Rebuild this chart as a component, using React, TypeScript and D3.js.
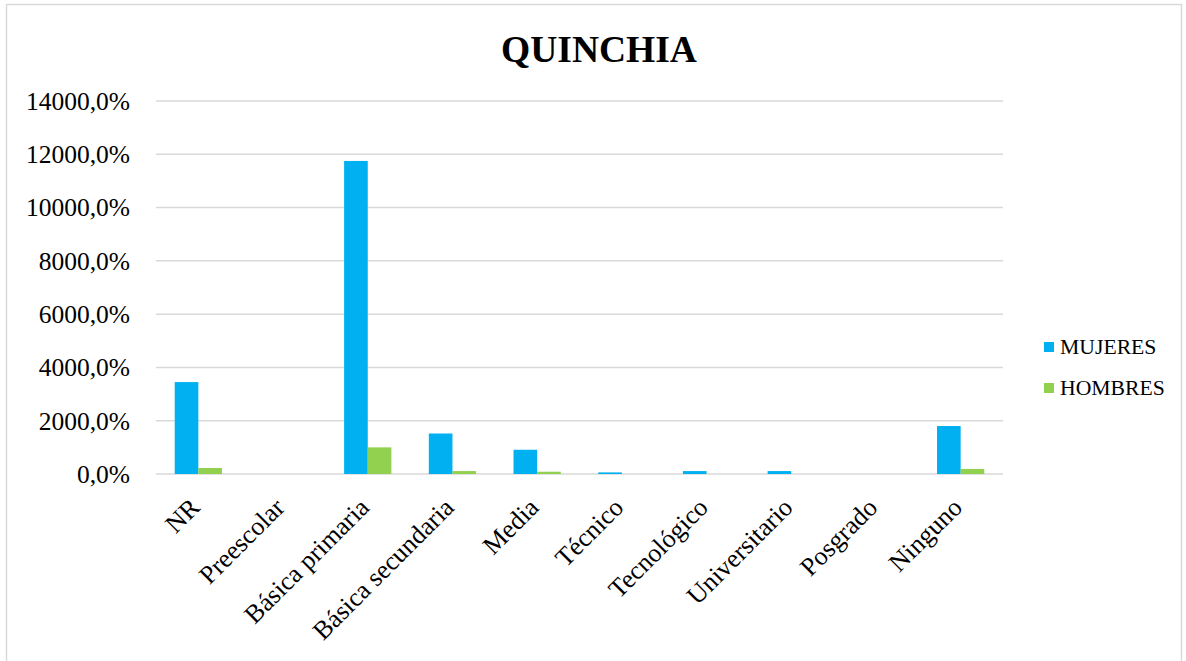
import React from "react";
import * as d3 from "d3";

const categories = ["NR", "Preescolar", "Básica primaria", "Básica secundaria", "Media", "Técnico", "Tecnológico", "Universitario", "Posgrado", "Ninguno"];
const mujeres = [3450, 0, 11750, 1520, 910, 60, 110, 110, 0, 1800];
const hombres = [225, 0, 1000, 110, 85, 0, 0, 0, 0, 190];
const yTicks = [0, 2000, 4000, 6000, 8000, 10000, 12000, 14000];
const seriesNames = ["MUJERES", "HOMBRES"];
const colors = ["#00B0F0", "#92D050"];

const W = 1186, H = 661;
const plot = { left: 156, right: 1003, top: 101, bottom: 474 };
const font = "'Liberation Serif', 'Times New Roman', serif";

export default function App() {
  const x = d3.scaleBand<string>().domain(categories).range([plot.left, plot.right]).paddingInner(0).paddingOuter(0);
  const y = d3.scaleLinear().domain([0, 14000]).range([plot.bottom, plot.top]);
  const bw = x.bandwidth();
  const barW = bw * 0.279;
  const fmt = (v: number) => v.toFixed(1).replace(".", ",") + "%";
  const series = [mujeres, hombres];
  return (
    <svg width={W} height={H} style={{ position: "absolute", left: 0, top: 0, background: "#fff" }} fontFamily={font}>
      <rect x={6.5} y={4.5} width={1175} height={662} fill="#fff" stroke="#D9D9D9" strokeWidth={1.5} />
      <text x={599} y={62} textAnchor="middle" fontSize={37.5} fontWeight="bold" fill="#000">QUINCHIA</text>
      {yTicks.map((t) => (
        <g key={t}>
          <line x1={plot.left} x2={plot.right} y1={y(t)} y2={y(t)} stroke="#D9D9D9" strokeWidth={1.5} />
          <text x={130} y={y(t)} dy="0.35em" textAnchor="end" fontSize={25.5} fill="#000">{fmt(t)}</text>
        </g>
      ))}
      {series.map((s, si) =>
        s.map((v, i) => {
          const cx = (x(categories[i]) as number) + bw / 2;
          const x0 = cx - barW + si * barW;
          return v > 0 ? (
            <rect key={si + "-" + i} x={x0} y={y(v)} width={barW} height={plot.bottom - y(v)} fill={colors[si]} />
          ) : null;
        })
      )}
      {categories.map((c) => {
        const cx = (x(c) as number) + bw / 2;
        const lx = cx + 3;
        const ly = 509;
        return (
          <text key={c} x={lx} y={ly} textAnchor="end" fontSize={26} fill="#000" transform={`rotate(-45 ${lx} ${ly})`}>{c}</text>
        );
      })}
      {seriesNames.map((n, i) => (
        <g key={n}>
          <rect x={1044} y={342 + i * 41} width={10} height={10} fill={colors[i]} />
          <text x={1060} y={354 + i * 41} fontSize={21.7} fill="#000">{n}</text>
        </g>
      ))}
    </svg>
  );
}
